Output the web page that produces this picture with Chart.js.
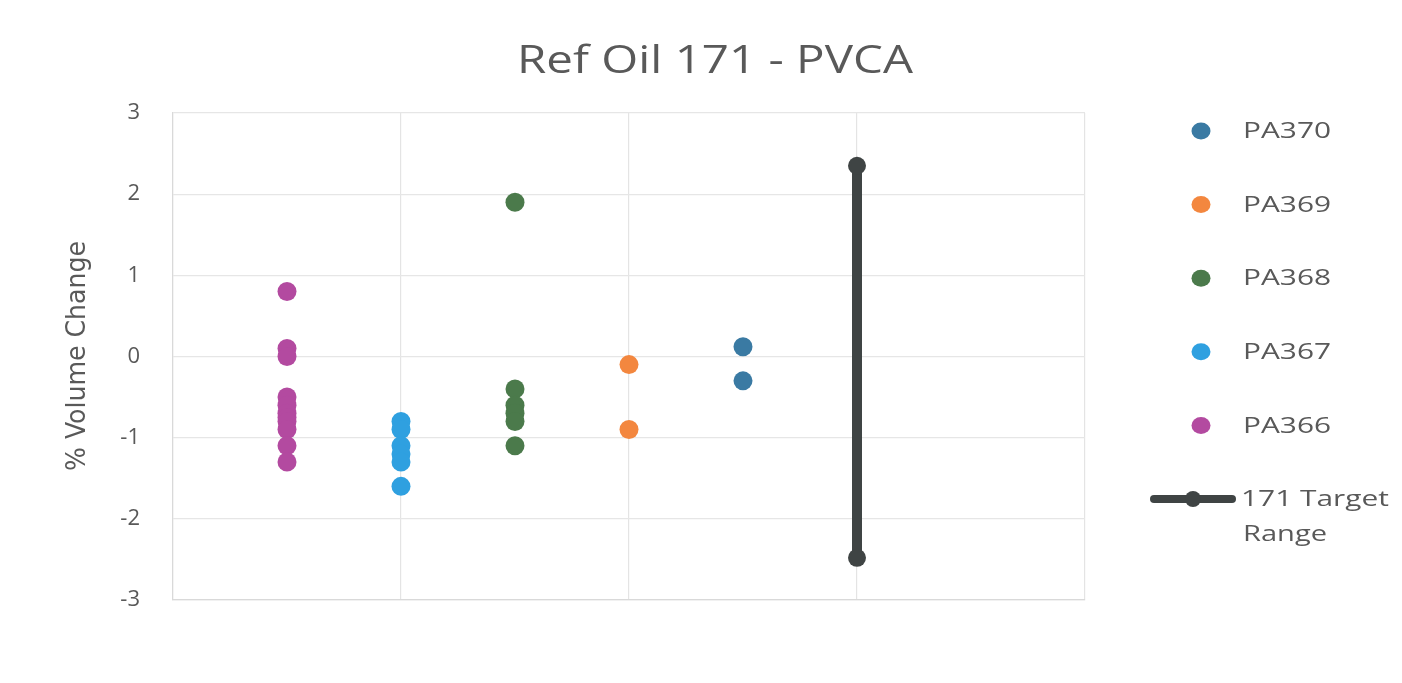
<!DOCTYPE html>
<html><head><meta charset="utf-8">
<script src="https://cdn.jsdelivr.net/npm/chart.js@4.4.1/dist/chart.umd.min.js"></script>
<style>html,body{margin:0;padding:0;background:#fff;}#wrap{width:1402px;height:683px;position:relative;}</style>
</head><body><div id="wrap"><canvas id="c" width="1402" height="683"></canvas></div>
<script>
const chartTitle = 'Ref Oil 171 - PVCA';
const yAxisTitle = '% Volume Change';
const categories = ['PA366', 'PA367', 'PA368', 'PA369', 'PA370'];
const pa366 = [0.8, 0.1, 0.0, -0.5, -0.6, -0.7, -0.75, -0.8, -0.9, -1.1, -1.3];
const pa367 = [-0.8, -0.9, -1.1, -1.2, -1.3, -1.6];
const pa368 = [1.9, -0.4, -0.6, -0.7, -0.8, -1.1];
const pa369 = [-0.1, -0.9];
const pa370 = [0.12, -0.3];
const targetLabel = '171 Target Range';
const targetRange = [2.35, -2.48];
const yTicks = [-3, -2, -1, 0, 1, 2, 3];
const seriesValues = [pa366, pa367, pa368, pa369, pa370];
const seriesColors = ['#b34aa0', '#2fa0e0', '#4b7a4b', '#f3873f', '#3a7aa3'];
const textColor = '#595959';

const datasets = categories.map((name, i) => ({
  label: name,
  data: seriesValues[i].map(v => ({x: i + 1, y: v})),
  showLine: false,
  pointRadius: 9.5,
  pointBackgroundColor: seriesColors[i],
  pointBorderColor: seriesColors[i],
  pointBorderWidth: 0,
  order: 2
}));
datasets.push({
  label: targetLabel,
  data: targetRange.map(v => ({x: categories.length + 1, y: v})),
  showLine: true,
  borderColor: '#3f4444',
  borderWidth: 10,
  pointRadius: 9,
  pointBorderWidth: 0,
  pointBackgroundColor: '#3f4444',
  pointBorderColor: '#3f4444',
  order: 1
});

function fitText(ctx, text, x, y, width) {
  const w = ctx.measureText(text).width;
  ctx.save();
  ctx.translate(x, y);
  ctx.scale(width / w, 1);
  ctx.fillText(text, 0, 0);
  ctx.restore();
}

const overlay = {
  id: 'overlay',
  afterDraw(chart) {
    const ctx = chart.ctx;
    ctx.save();
    ctx.fillStyle = textColor;
    ctx.textBaseline = 'middle';
    ctx.textAlign = 'left';
    // title
    ctx.font = '38px "Open Sans", Lato, sans-serif';
    fitText(ctx, chartTitle, 517, 62, 396);
    // y title
    ctx.save();
    ctx.translate(78, 356);
    ctx.rotate(-Math.PI / 2);
    ctx.font = '27px "Liberation Sans Narrow", "DejaVu Sans Condensed", sans-serif';
    fitText(ctx, yAxisTitle, -115, 0, 230);
    ctx.restore();
    // legend
    ctx.font = '22px "Open Sans", Lato, sans-serif';
    const ds = chart.data.datasets;
    const order = [4, 3, 2, 1, 0];
    order.forEach((di, k) => {
      const y = 131 + k * 73.6;
      ctx.fillStyle = ds[di].pointBackgroundColor;
      ctx.beginPath();
      ctx.ellipse(1201, y, 9.5, 8.5, 0, 0, Math.PI * 2);
      ctx.fill();
      ctx.fillStyle = textColor;
      fitText(ctx, ds[di].label, 1243, y + 1, 88);
    });
    const t = ds[5];
    const ty = 499;
    ctx.strokeStyle = t.borderColor;
    ctx.lineWidth = 8;
    ctx.lineCap = 'round';
    ctx.beginPath();
    ctx.moveTo(1154, ty);
    ctx.lineTo(1232, ty);
    ctx.stroke();
    ctx.fillStyle = t.borderColor;
    ctx.beginPath();
    ctx.arc(1193, ty, 8, 0, Math.PI * 2);
    ctx.fill();
    ctx.fillStyle = textColor;
    const words = t.label.split(' ');
    fitText(ctx, words.slice(0, 2).join(' '), 1241, ty + 1, 148);
    fitText(ctx, words.slice(2).join(' '), 1243, ty + 36, 84);
    ctx.restore();
  }
};

new Chart(document.getElementById('c'), {
  type: 'scatter',
  data: {datasets},
  options: {
    responsive: false,
    animation: false,
    layout: {padding: {left: 0, right: 317, top: 113, bottom: 83}},
    plugins: {legend: {display: false}, tooltip: {enabled: false}, title: {display: false}},
    scales: {
      x: {
        type: 'linear', min: 0, max: 8,
        ticks: {display: false, stepSize: 2},
        grid: {color: '#e4e4e4', lineWidth: 1.2, drawTicks: false},
        border: {color: '#d9d9d9', width: 1.2},
        afterFit(s) { s.height = 0; }
      },
      y: {
        min: -3, max: 3,
        afterBuildTicks(s) { s.ticks = yTicks.map(v => ({value: v})); },
        ticks: {color: textColor, font: {family: '"Open Sans", Lato, sans-serif', size: 22}, padding: 33},
        grid: {color: '#e6e6e6', lineWidth: 1.2, drawTicks: false},
        border: {color: '#d9d9d9', width: 1.2},
        afterFit(s) { s.width = 173; }
      }
    }
  },
  plugins: [overlay]
});
</script></body></html>
